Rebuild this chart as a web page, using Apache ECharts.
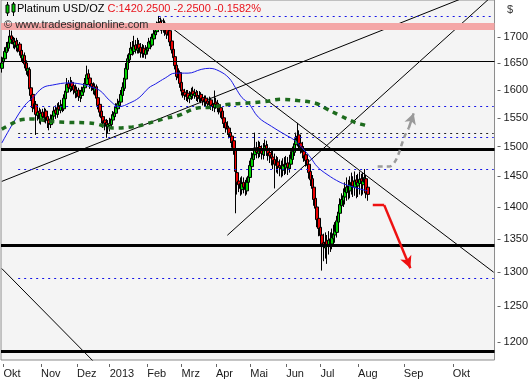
<!DOCTYPE html>
<html><head><meta charset="utf-8">
<script src="https://cdn.jsdelivr.net/npm/echarts@6/dist/echarts.min.js"></script>
<style>html,body{margin:0;padding:0;background:#fff}#c{width:531px;height:380px}</style>
</head><body><div id="c"></div>
<script>
// ---------- DATA ----------
const slotCount = 302; // trading-day slots on the time axis (incl. future space)
const monthTickIdx = [1, 24, 46, 66, 89, 110, 131, 152, 174, 195, 218, 246, 276];
const monthTickLabels = ['Okt', 'Nov', 'Dez', '2013', 'Feb', 'Mrz', 'Apr', 'Mai', 'Jun', 'Jul', 'Aug', 'Sep', 'Okt'];
const priceTicks = [1200, 1250, 1300, 1350, 1400, 1450, 1500, 1550, 1600, 1650, 1700];
const priceMin = 1175.7, priceMax = 1773;

// daily candles [open, close, low, high]
const ohlc = [
[1640,1650,1632,1662],[1652,1660,1645,1668],[1658,1672,1652,1680],[1670,1680,1664,1690],[1678,1690,1672,1702],
[1688,1700,1683,1721],[1702,1695,1686,1712],[1694,1686,1678,1700],[1684,1690,1676,1698],[1692,1680,1672,1698],
[1678,1684,1670,1694],[1686,1672,1664,1690],[1674,1660,1652,1678],[1658,1665,1650,1674],[1664,1648,1640,1670],
[1650,1636,1628,1655],[1634,1640,1625,1648],[1638,1602,1596,1642],[1604,1590,1580,1610],[1592,1568,1560,1598],
[1566,1575,1558,1584],[1574,1556,1520,1580],[1554,1560,1545,1570],[1562,1548,1540,1568],[1546,1558,1538,1565],
[1560,1552,1544,1566],[1550,1560,1542,1568],[1562,1550,1540,1566],[1552,1545,1532,1558],[1546,1540,1528,1552],
[1538,1548,1532,1556],[1546,1555,1540,1562],[1553,1562,1546,1570],[1564,1558,1548,1572],[1556,1568,1550,1576],
[1570,1565,1556,1578],[1563,1572,1558,1582],[1574,1568,1560,1584],[1566,1585,1562,1592],[1584,1598,1578,1606],
[1596,1610,1590,1622],[1612,1604,1596,1618],[1602,1612,1596,1624],[1614,1606,1598,1618],[1608,1600,1592,1614],
[1602,1595,1585,1610],[1594,1598,1586,1606],[1600,1588,1580,1604],[1586,1592,1578,1600],[1590,1598,1584,1606],
[1596,1605,1590,1612],[1604,1612,1598,1622],[1610,1628,1606,1645],[1630,1620,1612,1638],[1622,1610,1602,1626],
[1612,1606,1598,1620],[1608,1600,1592,1614],[1598,1604,1590,1612],[1606,1585,1578,1610],[1586,1572,1565,1592],
[1574,1560,1552,1580],[1562,1550,1540,1566],[1552,1544,1532,1558],[1546,1540,1528,1552],[1542,1535,1515,1548],
[1534,1538,1522,1546],[1536,1540,1526,1550],[1538,1548,1530,1556],[1546,1555,1540,1562],[1552,1560,1546,1570],
[1558,1568,1552,1576],[1566,1575,1560,1584],[1572,1580,1566,1590],[1578,1592,1572,1600],[1590,1605,1585,1614],
[1603,1622,1598,1630],[1620,1640,1614,1650],[1638,1658,1632,1666],[1656,1668,1650,1678],[1666,1678,1660,1690],
[1680,1674,1664,1692],[1672,1682,1666,1702],[1684,1676,1668,1694],[1674,1685,1668,1698],[1686,1678,1668,1694],
[1680,1670,1660,1688],[1668,1676,1660,1686],[1678,1668,1660,1684],[1666,1675,1658,1684],[1674,1680,1666,1690],
[1678,1690,1672,1698],[1692,1686,1676,1700],[1684,1698,1680,1706],[1696,1706,1690,1714],[1704,1712,1698,1722],
[1710,1720,1704,1730],[1718,1728,1710,1741],[1730,1722,1712,1738],[1724,1715,1706,1732],[1713,1725,1708,1736],
[1726,1712,1702,1732],[1714,1705,1696,1720],[1703,1710,1694,1718],[1712,1690,1682,1716],[1692,1675,1668,1698],
[1676,1660,1652,1680],[1662,1645,1638,1666],[1646,1625,1618,1650],[1622,1630,1614,1640],[1632,1612,1604,1636],
[1614,1598,1590,1618],[1600,1595,1586,1606],[1596,1590,1582,1602],[1588,1592,1580,1600],[1594,1586,1578,1600],
[1584,1590,1576,1598],[1588,1596,1582,1604],[1598,1592,1584,1606],[1590,1594,1584,1602],[1596,1588,1580,1600],
[1590,1586,1578,1598],[1584,1590,1578,1598],[1592,1584,1576,1596],[1586,1580,1572,1592],[1578,1583,1570,1590],
[1585,1578,1570,1590],[1580,1575,1566,1586],[1573,1580,1566,1588],[1582,1572,1564,1586],[1574,1570,1562,1580],
[1568,1576,1560,1599],[1578,1574,1566,1586],[1576,1568,1560,1582],[1570,1566,1556,1576],[1568,1560,1550,1574],
[1562,1548,1540,1566],[1550,1540,1532,1555],[1542,1532,1524,1548],[1534,1530,1520,1544],[1532,1522,1514,1536],
[1524,1516,1506,1530],[1518,1508,1498,1524],[1510,1495,1486,1514],[1494,1458,1390,1498],[1456,1440,1420,1466],
[1442,1436,1424,1452],[1438,1430,1418,1448],[1428,1438,1420,1450],[1440,1432,1422,1448],[1434,1428,1418,1444],
[1426,1440,1420,1448],[1440,1450,1434,1460],[1448,1468,1444,1476],[1466,1480,1460,1490],[1478,1488,1470,1498],
[1486,1496,1478,1524],[1498,1490,1480,1508],[1488,1498,1480,1510],[1500,1492,1482,1508],[1494,1488,1478,1502],
[1486,1495,1478,1506],[1493,1500,1484,1512],[1502,1494,1484,1510],[1496,1488,1476,1504],[1490,1484,1472,1498],
[1486,1480,1468,1496],[1482,1476,1462,1494],[1478,1470,1430,1488],[1468,1472,1456,1484],[1474,1466,1454,1482],
[1468,1464,1450,1478],[1466,1462,1448,1476],[1460,1468,1450,1480],[1470,1466,1452,1482],[1464,1470,1454,1484],
[1472,1465,1452,1482],[1463,1472,1456,1486],[1470,1480,1462,1492],[1478,1492,1472,1500],[1490,1505,1484,1514],
[1503,1512,1496,1524],[1510,1518,1500,1541],[1520,1505,1496,1528],[1506,1498,1488,1514],[1500,1490,1480,1508],
[1492,1484,1474,1500],[1486,1476,1466,1494],[1478,1468,1458,1486],[1470,1456,1446,1476],[1458,1444,1434,1464],
[1446,1430,1420,1452],[1432,1412,1402,1436],[1414,1398,1388,1420],[1400,1380,1368,1404],[1382,1366,1354,1388],
[1368,1355,1340,1374],[1356,1342,1302,1362],[1344,1338,1316,1358],[1336,1345,1320,1360],[1347,1340,1312,1356],
[1338,1348,1326,1362],[1350,1344,1330,1360],[1342,1352,1334,1366],[1350,1358,1340,1372],[1356,1362,1344,1376],
[1360,1378,1352,1386],[1376,1392,1370,1400],[1390,1404,1384,1414],[1402,1412,1394,1422],[1410,1418,1400,1430],
[1416,1425,1404,1440],[1423,1432,1410,1448],[1434,1428,1412,1444],[1426,1436,1414,1450],[1434,1440,1420,1456],
[1442,1434,1416,1450],[1432,1442,1418,1458],[1444,1436,1414,1452],[1434,1440,1416,1454],[1438,1445,1420,1458],
[1446,1438,1418,1454],[1436,1442,1420,1456],[1440,1448,1426,1462],[1446,1422.5,1414,1452],[1432,1420.25,1410,1440]
];

// moving averages: [slot index, price]
const maFast = [[0,1506],[7,1541],[14,1572],[19,1586],[25,1604],[31,1609],[41,1613],[48,1611],[54,1606],[60,1599],
[66,1581],[72,1570],[78,1576],[84,1586],[90,1604],[94,1611],[100,1622],[106,1631],[114,1631],[122,1638],[127,1640],
[133,1635],[139,1622],[143,1604],[147,1586],[151,1576],[157,1551],[165,1535],[173,1521],[179,1511],[185,1494],
[189,1481],[193,1466],[199,1453],[207,1440],[213,1434],[222,1427],[224,1426]];
const maSlow = [[0,1530],[7,1541],[11,1546],[19,1548],[29,1544],[40,1542],[52,1541],[58,1539],[68,1532],[80,1534],
[88,1539],[100,1549],[108,1554],[119,1567],[128,1569],[139,1574],[149,1576],[161,1579],[171,1583],[181,1581],
[192,1576],[198,1567],[207,1554],[216,1542],[222,1537],[224,1535]];

// horizontal price levels
const peakLevel = 1741, peakIdx = 96;
const bandLevel = 1722;
const thinLevels = [1658];
const thickLevels = [1502, 1341.5, 1184];
const blueDotLevels = [1570, 1516, 1462, 1290.5];
const blackDotLevels = [1523.5];
const dotStartIdx = 10;

// trend lines [[idx, price], [idx, price]]
const trendLines = [
  [[96, 1737], [301, 1299.5]],
  [[0, 1441.5], [280, 1774]],
  [[138, 1355.5], [298, 1775]],
  [[0, 1305], [56, 1174]]
];
// projection arrows (path points, last segment carries the arrow head)
const grayArrow = [[230, 1466], [237, 1466], [240, 1472], [243, 1489], [245, 1506], [247, 1521], [249, 1532], [252, 1558]];
const redArrow = [[227, 1403], [234, 1403], [250, 1305.5]];

// ---------- CHART ----------
const L = Math.log;
const FONT = '"Liberation Sans", Arial, sans-serif';
const slotNames = Array.from({length: slotCount}, (_, i) => 's' + i);
const labelAt = {};
monthTickIdx.forEach((idx, k) => { labelAt[idx] = monthTickLabels[k]; });
const isMonth = (idx) => labelAt[idx] !== undefined;
const lastIdx = slotCount - 1;
const DOT = [2, 4];
const toXY = arr => arr.map(([i, p]) => [i, L(p)]);

const mlData = [];
mlData.push({yAxis: L(bandLevel), lineStyle: {color: '#f4a7a7', width: 7, type: 'solid'}});
thinLevels.forEach(p => mlData.push({yAxis: L(p), lineStyle: {color: '#000', width: 1, type: 'solid'}}));
thickLevels.forEach(p => mlData.push({yAxis: L(p), lineStyle: {color: '#000', width: 3, type: 'solid'}}));
blueDotLevels.forEach(p => mlData.push([{coord: [dotStartIdx, L(p)], lineStyle: {color: '#1515e6', width: 1, type: DOT}}, {coord: [lastIdx, L(p)]}]));
blackDotLevels.forEach(p => mlData.push([{coord: [dotStartIdx, L(p)], lineStyle: {color: '#222', width: 1, type: DOT}}, {coord: [lastIdx, L(p)]}]));
mlData.push([{coord: [peakIdx, L(peakLevel)], lineStyle: {color: '#1515e6', width: 1, type: DOT}}, {coord: [lastIdx, L(peakLevel)]}]);

const series = [];
series.push({
  type: 'line', data: [], silent: true, z: 1,
  markLine: {silent: true, symbol: 'none', label: {show: false}, animation: false, data: mlData}
});
trendLines.forEach(seg => series.push({
  type: 'line', data: toXY(seg), symbol: 'none', clip: true, silent: true, z: 3,
  lineStyle: {color: '#000', width: 1}
}));
series.push({
  type: 'candlestick', data: ohlc.map(r => r.map(L)), barWidth: 3, z: 4,
  itemStyle: {color: '#00d400', color0: '#ee0000', borderColor: '#000', borderColor0: '#000', borderWidth: 1}
});
series.push({
  type: 'line', data: toXY(maFast), smooth: 0.4, symbol: 'none', z: 5,
  lineStyle: {color: '#1a1ae6', width: 1}
});
series.push({
  type: 'line', data: toXY(maSlow), smooth: 0.4, symbol: 'none', z: 5,
  lineStyle: {color: '#1d6b1d', width: 3.5, type: [5, 5]}
});
const gPts = toXY(grayArrow);
series.push({
  type: 'line', data: gPts.slice(0, -1), smooth: 0.35, symbol: 'none', silent: true, z: 6,
  lineStyle: {color: '#9a9a9a', width: 2.5, type: [5, 4]},
  markLine: {silent: true, symbol: ['none', 'arrow'], symbolSize: [9, 11], label: {show: false},
    lineStyle: {color: '#9a9a9a', width: 2.5, type: 'solid'},
    data: [[{coord: gPts[gPts.length - 2]}, {coord: gPts[gPts.length - 1]}]]}
});
const rPts = toXY(redArrow);
series.push({
  type: 'line', data: rPts.slice(0, 2), symbol: 'none', silent: true, z: 6,
  lineStyle: {color: '#ee1111', width: 2.5},
  markLine: {silent: true, symbol: ['none', 'arrow'], symbolSize: [9, 12], label: {show: false},
    lineStyle: {color: '#ee1111', width: 2.5, type: 'solid'},
    data: [[{coord: rPts[1]}, {coord: rPts[2]}]]}
});

const option = {
  animation: false,
  backgroundColor: '#ffffff',
  grid: {left: 1, right: 33, top: -1, bottom: 20, show: true, backgroundColor: '#f4f4f4', borderColor: '#8c8c8c', borderWidth: 1},
  xAxis: {
    type: 'category', data: slotNames, boundaryGap: true, offset: 4,
    axisLine: {show: false},
    axisTick: {show: true, interval: (idx) => isMonth(idx), alignWithLabel: true, length: 3, lineStyle: {color: '#666'}},
    axisLabel: {interval: (idx) => isMonth(idx), formatter: (v, idx) => labelAt[idx] || '', align: 'left', margin: 4,
      color: '#1a1a1a', fontSize: 11, fontFamily: FONT},
    splitLine: {show: false}
  },
  yAxis: {
    type: 'value', position: 'right', min: L(priceMin), max: L(priceMax), offset: 3, scale: true,
    axisLine: {show: false},
    axisTick: {show: true, length: 3, customValues: priceTicks.map(L), lineStyle: {color: '#666'}},
    axisLabel: {customValues: priceTicks.map(L), formatter: v => String(Math.round(Math.exp(v))), margin: 6,
      color: '#1a1a1a', fontSize: 11, fontFamily: FONT},
    splitLine: {show: false}
  },
  graphic: [
    {type: 'rect', z: 100, shape: {x: 2, y: 1, width: 258, height: 14}, style: {fill: '#f4f4f4'}},
    {type: 'line', z: 101, shape: {x1: 7.5, y1: 2, x2: 7.5, y2: 16}, style: {stroke: '#000', lineWidth: 1}},
    {type: 'rect', z: 102, shape: {x: 6, y: 5, width: 3, height: 8}, style: {fill: '#00cc00', stroke: '#000', lineWidth: 1}},
    {type: 'line', z: 101, shape: {x1: 13.5, y1: 2, x2: 13.5, y2: 16}, style: {stroke: '#000', lineWidth: 1}},
    {type: 'rect', z: 102, shape: {x: 12, y: 4, width: 3, height: 8}, style: {fill: '#00cc00', stroke: '#000', lineWidth: 1}},
    {type: 'text', z: 103, left: 17, top: 3, style: {
      text: '{a|Platinum USD/OZ} {b|C:1420.2500 -2.2500 -0.1582%}',
      rich: {a: {fill: '#000', fontSize: 11, fontFamily: FONT}, b: {fill: '#e8141c', fontSize: 11, fontFamily: FONT}},
      font: '11px ' + FONT}},
    {type: 'text', z: 103, left: 4, top: 19, style: {text: '\u00a9 www.tradesignalonline.com', fill: '#2a2a2a', font: '11px ' + FONT}},
    {type: 'text', z: 103, left: 507, top: 4, style: {text: '$', fill: '#333', font: '11px ' + FONT}}
  ],
  series: series
};
const chart = echarts.init(document.getElementById('c'));
chart.setOption(option);
</script>
</body></html>
